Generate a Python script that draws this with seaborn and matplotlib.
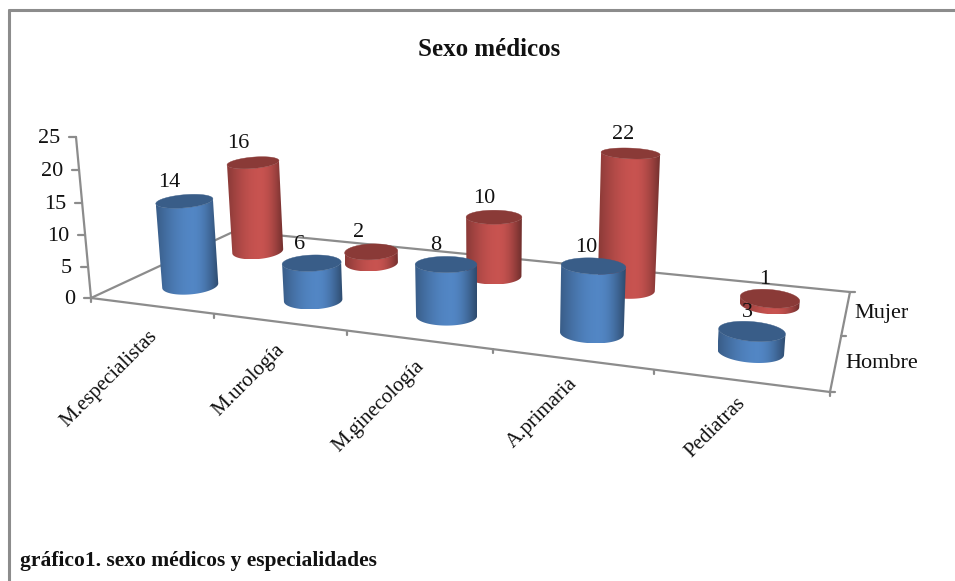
import numpy as np
import pandas as pd
import matplotlib
matplotlib.use("Agg")
import matplotlib.pyplot as plt
from matplotlib.patches import Polygon
from matplotlib.colors import to_rgb
import seaborn as sns

# Chart content
title = "Sexo médicos"
caption = "gráfico1. sexo médicos y especialidades"
categories = ["M.especialistas", "M.urología", "M.ginecología", "A.primaria", "Pediatras"]
series_names = ["Hombre", "Mujer"]
hombre = [14, 6, 8, 10, 3]
mujer = [16, 2, 10, 22, 1]
value_ticks = [0, 5, 10, 15, 20, 25]

sns.set_theme(style="white", font="Liberation Serif")
sns.set_palette(["#4F81BD", "#C0504D"])
palette = sns.color_palette()

W, H_PX = 955, 581
GRAY = "#8C8C8C"
TEXT = "#111111"

# Perspective camera: floor homography from the corners of the category/series plane,
# plus a vertical vanishing point for the value direction.
floor_src = [(0, 0), (5, 0), (0, 2), (5, 2)]
floor_dst = [(91, 298), (830, 392), (235, 231), (850, 292)]


def fit_homography(src, dst):
    A, b = [], []
    for (u, v), (x, y) in zip(src, dst):
        A.append([u, v, 1, 0, 0, 0, -u * x, -v * x])
        A.append([0, 0, 0, u, v, 1, -u * y, -v * y])
        b += [x, y]
    h = np.linalg.solve(np.array(A, float), np.array(b, float))
    return np.append(h, 1).reshape(3, 3)


FLOOR = fit_homography(floor_src, floor_dst)
VANISH = np.array([490.0, 4580.0, 1.0])
AXIS_GAIN = -0.00145
BAR_GAIN = -0.00142


def homog(u, v, z=0.0, gain=BAR_GAIN):
    u, v = np.broadcast_arrays(np.asarray(u, float), np.asarray(v, float))
    base = np.stack([u, v, np.ones_like(u)], axis=-1) @ FLOOR.T
    return base + np.asarray(z, float)[..., None] * gain * VANISH


def project(u, v, z=0.0, gain=BAR_GAIN):
    p = homog(u, v, z, gain)
    return p[..., 0] / p[..., 2], p[..., 1] / p[..., 2]


def line(ax, xs, ys, lw=1.6):
    # Straight axis segments go through seaborn's line drawing
    sns.lineplot(x=np.atleast_1d(xs), y=np.atleast_1d(ys), sort=False, estimator=None,
                 color=GRAY, linewidth=lw, ax=ax, legend=False, zorder=2)


def side_gradient(base, n=128):
    # Cylinder side: dark at the silhouette, brightest right of centre, darkest on the right edge
    c = np.array(to_rgb(base))
    f = np.linspace(0, 1, n)
    peak = 0.58
    k = np.where(f < peak,
                 0.72 + 0.32 * np.sin(f / peak * np.pi / 2),
                 0.58 + 0.46 * np.cos((f - peak) / (1 - peak) * np.pi / 2))
    return np.clip(c[None, :] * k[:, None], 0, 1)[None, :, :]


def ring(u, v, z, t):
    # Screen-space outline of the cylinder at height z, for parameter angles t
    cx, cy = project(u, v, z)
    depth = float(homog(u, v, z)[2])
    a = 29.0 / depth
    b = 9.0 / float(homog(u, v)[2]) * (1 - 0.018 * z)
    phi = np.radians(2.5 * (u - 2.5))
    x = cx + a * np.cos(t) * np.cos(phi) - b * np.sin(t) * np.sin(phi)
    y = cy + a * np.cos(t) * np.sin(phi) + b * np.sin(t) * np.cos(phi)
    return x, y


def cylinder(ax, u, v, value, color, z):
    arc = np.linspace(np.pi, 0, 61)
    bx, by = ring(u, v, 0.0, arc)
    tx, ty = ring(u, v, float(value), arc)
    outline = np.column_stack([np.r_[bx, tx[::-1]], np.r_[by, ty[::-1]]])
    im = ax.imshow(side_gradient(color), aspect="auto", interpolation="bilinear", zorder=z,
                   extent=(outline[:, 0].min(), outline[:, 0].max(),
                           outline[:, 1].max(), outline[:, 1].min()))
    im.set_clip_path(Polygon(outline, closed=True, transform=ax.transData))
    ex, ey = ring(u, v, float(value), np.linspace(0, 2 * np.pi, 121))
    ax.fill(ex, ey, color=np.array(to_rgb(color)) * 0.72, lw=0.3, zorder=z + 0.1)
    return project(u, v, float(value))


fig = plt.figure(figsize=(W / 100, H_PX / 100), dpi=100, facecolor="white")
ax = fig.add_axes([0, 0, 1, 1])

# Floor outline
for (u0, v0), (u1, v1) in [((0, 0), (5, 0)), ((5, 0), (5, 2)), ((5, 2), (0, 2)), ((0, 2), (0, 0))]:
    x, y = project(np.array([u0, u1]), np.array([v0, v1]))
    line(ax, x, y)

# Value axis, ticks and labels
x, y = project(np.array([0.0, 0.0]), np.array([0.0, 0.0]), np.array([0.0, value_ticks[-1]]), gain=AXIS_GAIN)
line(ax, x, y)
for t in value_ticks:
    tx, ty = project(0.0, 0.0, float(t), gain=AXIS_GAIN)
    line(ax, [tx - 7, tx], [ty, ty])
    ax.text(tx - 16, ty + 1.5, str(t), ha="right", va="center", fontsize=16, color=TEXT)

# Category ticks and rotated labels
for i, name in enumerate(categories):
    x, y = project(float(i), 0.0)
    line(ax, [x, x], [y, y + 4])
    mx, my = project(i + 0.5, 0.0)
    ax.text(mx + 3, my + 28.5 - 2 * (i + 0.5), name, rotation=45, rotation_mode="anchor",
            ha="right", va="center", fontsize=15, color=TEXT)
x, y = project(5.0, 0.0)
line(ax, [x, x], [y, y + 4])

# Series ticks and labels on the right edge
for v in [0, 1, 2]:
    x, y = project(5.0, float(v))
    line(ax, [x, x + 5], [y, y])
for j, name in enumerate(series_names):
    x, y = project(5.0, j + 0.5)
    ax.text(x + 46 - 10 * j, y + 1, name, ha="center", va="center", fontsize=16, color=TEXT)

# Back row first so the front row overlaps it
frame = pd.DataFrame({"categoria": categories, "Hombre": hombre, "Mujer": mujer})
for j, name in reversed(list(enumerate(series_names))):
    for i, val in enumerate(frame[name]):
        tx, ty = cylinder(ax, i + 0.5, j + 0.5, val, palette[j], z=5 + (1 - j) * 5 + i * 0.5)
        ax.text(tx - 15 + 2.5 * i, ty - 19, str(val), ha="center", va="center",
                fontsize=16, color=TEXT, zorder=20)

# Outer chart border, open at the right and bottom
line(ax, [9, 9], [10, 581], lw=2.2)
line(ax, [9, 955], [10, 10], lw=2.2)

ax.text(489, 50, title, ha="center", va="center", fontsize=18, fontweight="bold", color=TEXT)
ax.text(20, 561, caption, ha="left", va="center", fontsize=15.5, fontweight="bold", color=TEXT)

ax.set_xlim(0, W)
ax.set_ylim(H_PX, 0)
ax.axis("off")
fig.savefig("out.png", dpi=100, facecolor="white")
